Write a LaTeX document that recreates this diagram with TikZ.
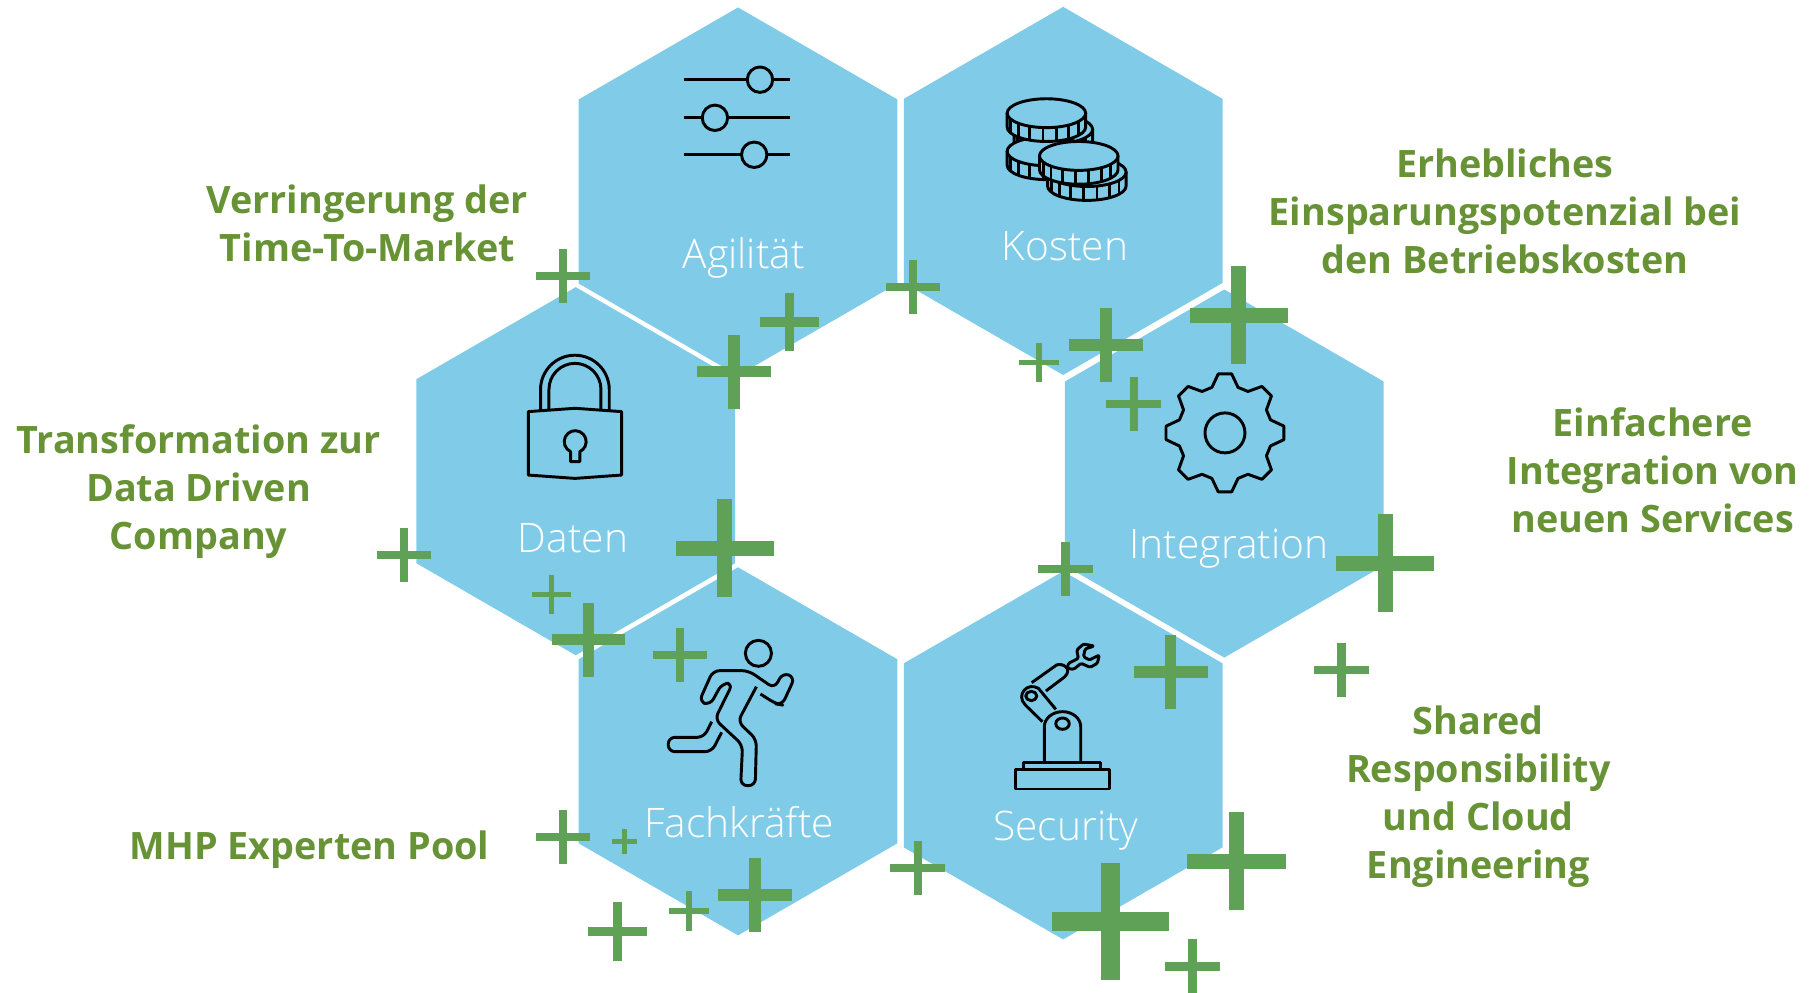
\documentclass[tikz,border=0pt]{standalone}
\usepackage{fontspec}
\setmainfont{Open Sans}
\newfontfamily\lightfont[UprightFont=* Light]{Open Sans}
\usetikzlibrary{shapes.geometric, positioning}
\definecolor{hexblue}{HTML}{80CCE8}
\definecolor{plusgreen}{HTML}{5FA157}
\definecolor{textgreen}{HTML}{679336}
\tikzset{
    hexcell/.style={
        regular polygon,
        regular polygon sides=6,
        shape border rotate=30,
        minimum size=276pt,
        inner sep=0pt,
        fill=hexblue
    },
    hexlabel/.style={
        font=\lightfont\fontsize{30.5}{32}\selectfont,
        text=white,
        inner sep=0pt
    },
    benefit/.style={
        font=\bfseries\fontsize{28.3}{36}\selectfont,
        text=textgreen,
        align=center,
        inner sep=0pt
    },
    icon/.style={
        draw=black,
        line width=2.2pt,
        line join=round
    }
}
\newcommand{\onecoin}[2]{%
    \draw[icon, fill=hexblue] (#1-34,#2) -- (#1-34,#2+12) arc (180:0:34 and 12.5) -- (#1+34,#2) -- cycle;
    \foreach \t in {155,135,...,25}
        \draw[icon] ({#1+34*cos(\t)},{#2+12.5*sin(\t)}) -- ++(0,12);
    \draw[icon, fill=hexblue] (#1,#2) ellipse (34 and 12.5);
}
\begin{document}
\begin{tikzpicture}[x=0.866pt, y=-0.866pt]
\useasboundingbox (0,0) rectangle (1568,859);

% Hexagon ring
\node[hexcell] (agilitaet) at (639,165.8) {};
\node[hexcell] (kosten) at (920.5,165.3) {};
\node[hexcell] (integration) at (1060,410) {};
\node[hexcell] (security) at (920.5,654) {};
\node[hexcell] (fachkraefte) at (639,650.5) {};
\node[hexcell] (daten) at (498.5,408) {};

% Hexagon labels
\node[hexlabel] (lagilitaet) at (644,223) {Agilität};
\node[hexlabel] (lkosten) at (922,213) {Kosten};
\node[hexlabel] (lintegration) at (1064,475) {Integration};
\node[hexlabel] (lsecurity) at (923,719) {Security};
\node[hexlabel] (lfachkraefte) at (640,712) {Fachkräfte};
\node[hexlabel] (ldaten) at (496,466) {Daten};

% Benefit texts
\node[benefit] (tagilitaet) at (318,193) {Verringerung der\\Time-To-Market};
\node[benefit] (tkosten) at (1303,183) {Erhebliches\\Einsparungspotenzial bei\\den Betriebskosten};
\node[benefit] (tdaten) at (172,426) {Transformation zur\\Data Driven\\Company};
\node[benefit] (tintegration) at (1431,407) {Einfachere\\Integration von\\neuen Services};
\node[benefit] (tsecurity) at (1280,690) {Shared\\Responsibility\\und Cloud\\Engineering};
\node[benefit] (tfachkraefte) at (268,736) {MHP Experten Pool};

% Sliders
\draw[icon] (592,69) -- (684,69);
\draw[icon] (592,102) -- (684,102);
\draw[icon] (592,134) -- (684,134);
\draw[icon, fill=hexblue] (658,69) circle (11);
\draw[icon, fill=hexblue] (619,102) circle (11);
\draw[icon, fill=hexblue] (653,134) circle (11);

% Coins
\onecoin{912}{112}
\onecoin{906}{131}
\onecoin{906}{98}
\onecoin{941}{149}
\onecoin{934}{135}

% Lock
\draw[icon] (468,355) -- (468,337.3) arc (180:360:29.75) -- (527.5,355);
\draw[icon] (475.3,355) -- (475.3,337.1) arc (180:360:22.5) -- (520.3,355);
\draw[icon] (457.4,356.4) -- (497.8,353.5) -- (538.2,356.4) -- (538.2,411.3) -- (497.8,414.2) -- (457.4,411.3) -- cycle;
\draw[icon] (494,399.7) -- (494,391) arc (115:425:9.5) -- (502,399.7) -- cycle;

% Gear
\begin{scope}[shift={(1060.6,374.8)}]
\draw[icon] (0,0) ++(-6.5-90:51.4)
    \foreach \a in {-90,-45,...,225} {
        -- (\a-6.5:51.4) -- (\a+6.5:51.4) -- (\a+16:41) -- (\a+29:41)
    } -- cycle;
\draw[icon] (0,0) circle (17.3);
\end{scope}

% Runner and robot
\begin{scope}[shift={(536.8,536.8)}, xscale=0.3424, yscale=0.2886]
\draw[icon] (350,100) ellipse (33 and 39);
\draw[icon, rounded corners=5pt] (345,200) -- (298,305) -- (345,358) -- (342,497) -- (305,497) -- (310,375) -- (240,298) -- (285,190) -- (258,190) -- (228,255) -- (200,245) -- (235,152) -- (325,152) -- (390,205) -- (412,158) -- (442,172) -- (410,255) -- (395,252) -- (355,222);
\draw[icon, rounded corners=5pt] (232,305) -- (212,352) -- (122,352) -- (122,395) -- (232,395) -- (257,337);
\draw[icon] (1000,448) rectangle (1238,507);
\draw[icon] (1020,448) -- (1020,427) -- (1216,427) -- (1216,448);
\draw[icon] (1073,427) -- (1073,320) arc (180:360:46 and 45) -- (1165,427);
\draw[icon] (1119,311) ellipse (17 and 17);
\draw[icon] (1068,305) -- (1025,255) .. controls (1000,225) and (1030,185) .. (1058,205) -- (1102,268);
\draw[icon] (1040,228) ellipse (14 and 14);
\draw[icon] (1041,188) -- (1104,135) .. controls (1118,128) and (1145,145) .. (1125,170) -- (1077,213);
\draw[icon, rounded corners=1pt] (1131,145) -- (1134,130) -- (1159,115) -- (1155,90) -- (1172,72) -- (1199,78) -- (1176,87) -- (1172,110) -- (1187,120) -- (1212,105) -- (1207,130) -- (1189,142) -- (1166,130) -- (1147,148) -- cycle;
\end{scope}

% Plus signs: x, y, half length, thickness
\begin{scope}[shift={(0.5,0.8)}]
\foreach \px/\py/\ph/\pw in {
    487/238/23.5/7, 683/278/25.5/8, 635/321/32/10, 790/248/23.5/7,
    899/313/17/5, 957/298/32/10, 1072/272/42.5/13, 981/349/23.5/7,
    349/480/23.5/7, 627/474/42.5/13, 477/514/17/5, 509/553/32/10,
    588/566/23.5/7, 922/492/23.5/7, 1199/487/42.5/13, 1161/579/23.5/7,
    1013/581/32/10, 487/724/23.5/7, 540/728/11/4, 653/774/32/10,
    596/788/17/5, 534/806/25.5/8, 794/751/23.5/7, 1070/745/42.5/13,
    961/797/51/16, 1032/836/23.5/7} {
    \fill[plusgreen] (\px-\ph,\py-\pw/2) rectangle (\px+\ph,\py+\pw/2);
    \fill[plusgreen] (\px-\pw/2,\py-\ph) rectangle (\px+\pw/2,\py+\ph);
}
\end{scope}

\end{tikzpicture}
\end{document}
